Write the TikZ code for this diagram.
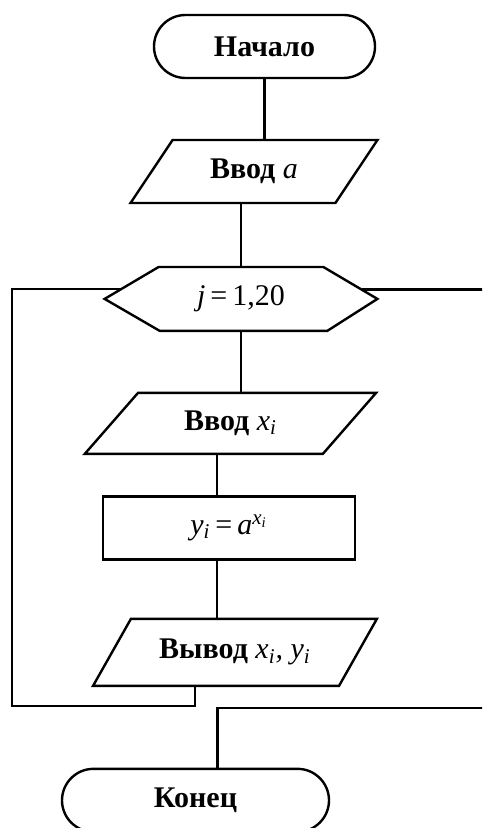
\documentclass[tikz,border=0pt]{standalone}
\usepackage{fontspec}
\setmainfont{Liberation Serif}
\usetikzlibrary{positioning}
\usetikzlibrary{shapes.geometric}
\usetikzlibrary{shapes.misc}
\usetikzlibrary{calc}
\newcommand{\fnt}{\fontsize{15}{18}\selectfont}
\newcommand{\mv}[1]{{\normalfont\itshape #1}}
\tikzset{
  % Start / end terminal
  term/.style={
    draw, rounded rectangle, line width=1.2pt, font=\fnt\bfseries,
    inner sep=2pt, minimum height=31.5pt, minimum width=#1},
  % Input / output parallelogram
  io/.style={
    draw, trapezium, trapezium stretches=true, line width=1.2pt,
    font=\fnt\bfseries, inner sep=2pt},
  % Plain process box
  proc/.style={
    draw, rectangle, line width=1.2pt, font=\fnt, inner sep=2pt,
    minimum height=31.5pt, minimum width=#1},
  % Loop header (outline drawn by hand)
  loopbox/.style={
    draw=none, rectangle, font=\fnt, inner sep=2pt,
    minimum height=31.5pt, minimum width=136pt},
  % Connectors
  link/.style={draw=black, line width=1.2pt},
}

\begin{document}
\begin{tikzpicture}[x=0.5pt, y=-0.5pt]
  \useasboundingbox (0,0) rectangle (482,828);
  \clip (0,0) rectangle (482,828);

  \node[term=114.5pt] (nach) at (264.5,46.5) {Начало};
  \node[io, minimum width=124pt, minimum height=31.5pt,
        trapezium left angle=53, trapezium right angle=127,
        below=29.8pt of nach, xshift=-5.25pt] (vvoda) {Ввод \mv{a}};
  \node[loopbox, below=31.4pt of vvoda, xshift=-6.5pt] (loop) {\mv{j}\,=\,1,20};
  \node[io, minimum width=146.5pt, minimum height=30.5pt,
        trapezium left angle=48.5, trapezium right angle=131.5,
        below=30.4pt of loop, xshift=-5.25pt] (vvodx) {Ввод \mv{x}\textsubscript{\mv{i}}};
  \node[proc=126pt, below=20.05pt of vvodx, xshift=-0.75pt] (calc)
       {\mv{y}\textsubscript{\mv{i}}\,=\,\mv{a}\textsuperscript{\mv{x}\textsubscript{\mv{i}}}};
  \node[io, minimum width=142pt, minimum height=33.5pt,
        trapezium left angle=49.6, trapezium right angle=130.4,
        below=28.55pt of calc, xshift=3pt] (vyvod)
       {Вывод \mv{x}\textsubscript{\mv{i}}\mv{,} \mv{y}\textsubscript{\mv{i}}};
  \node[term=137.5pt, below=40.3pt of vyvod, xshift=-19.75pt] (kon) {Конец};

  % hexagon of the loop header
  \coordinate (loopnw) at ([xshift=27pt]loop.north west);
  \coordinate (loopne) at ([xshift=-27pt]loop.north east);
  \coordinate (loopse) at ([xshift=-25pt]loop.south east);
  \coordinate (loopsw) at ([xshift=27.5pt]loop.south west);
  \draw[link] (loop.west) -- (loopnw) -- (loopne) -- (loop.east)
              -- (loopse) -- (loopsw) -- cycle;
  \coordinate (loopin)  at ($(loop.west)!0.32!(loopnw)$);
  \coordinate (loopout) at ($(loop.east)!0.29!(loopne)$);

  % free corners of the loop lines
  \coordinate (backl) at (12,706);
  \coordinate (exitr) at (494,708);

  \draw[link] (nach.south) -- (nach.south |- vvoda.north);
  \draw[link] (loop.north |- vvoda.south) -- (loop.north);
  \draw[link] (loop.south) -- (loop.south |- vvodx.north);
  \draw[link] ([xshift=-6pt]calc.north |- vvodx.south) -- ([xshift=-6pt]calc.north);
  \draw[link] ([xshift=-6pt]calc.south) -- ([xshift=-6pt]calc.south |- vyvod.north);

  \draw[link] ([xshift=-20pt]vyvod.south) |- (backl) |- (loopin);
  \draw[link] (loopout) -| (exitr) -| ([xshift=11pt]kon.north);

\end{tikzpicture}
\end{document}
